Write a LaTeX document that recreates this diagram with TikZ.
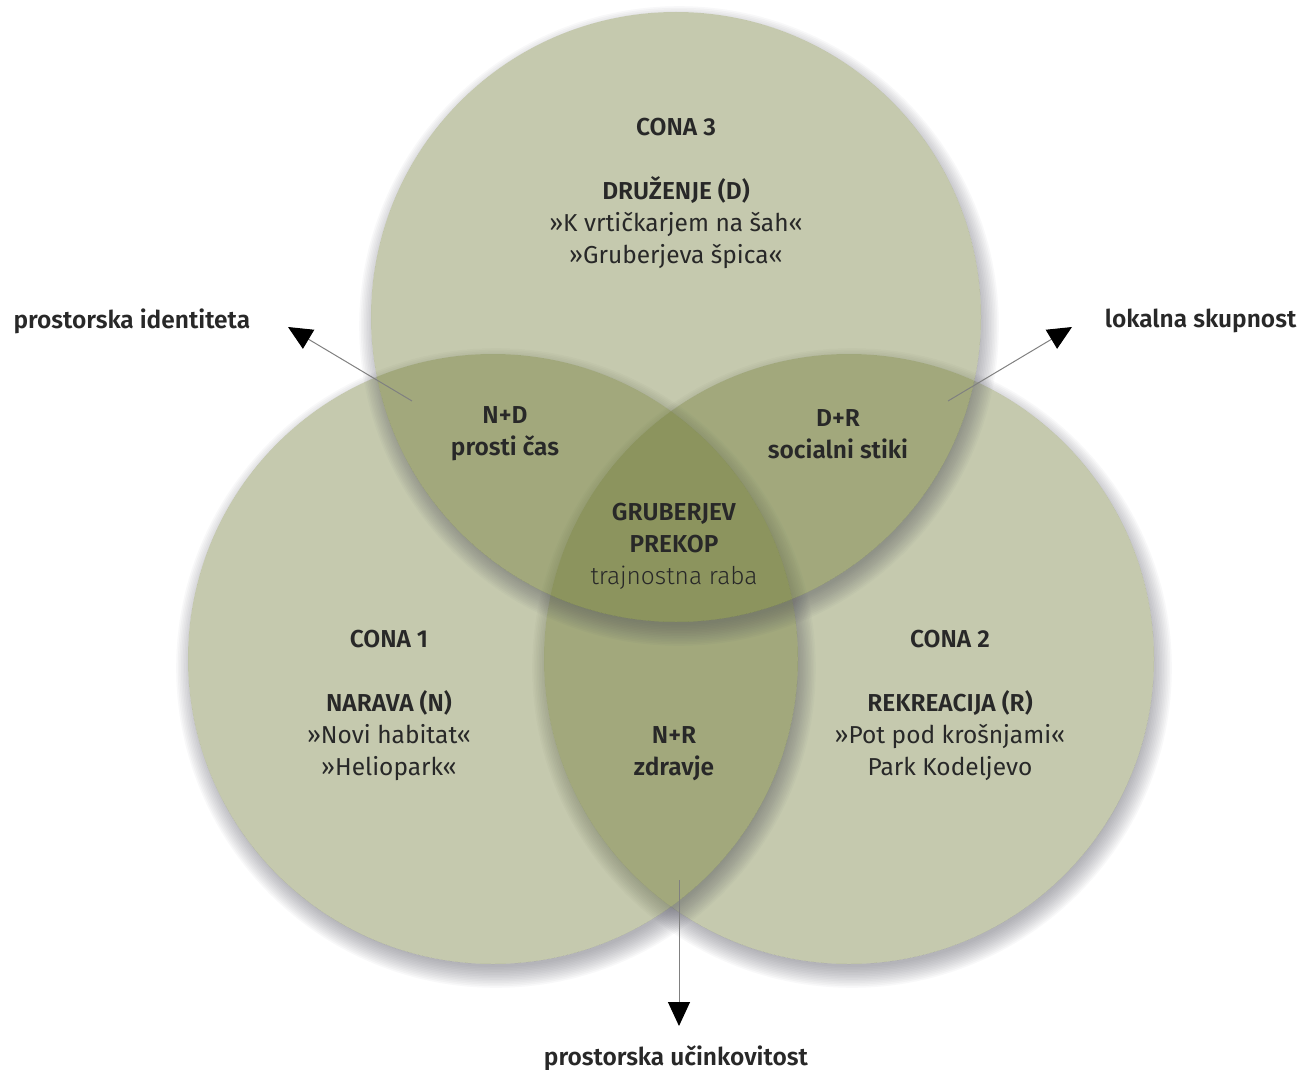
\documentclass[tikz,border=0pt]{standalone}
\usepackage{fontspec}
\setmainfont{Fira Sans}[BoldFont={Fira Sans SemiBold}]
\newfontfamily\lightfont{Fira Sans Light}
\usetikzlibrary{arrows.meta}
\definecolor{zonegreen}{RGB}{106,117,47}
\definecolor{shadowgray}{RGB}{80,80,92}
\definecolor{ink}{RGB}{40,40,40}
\tikzset{
  zone/.style={circle, minimum size=610pt, inner sep=0pt, fill=zonegreen, fill opacity=0.39},
  txt/.style={align=center, text=ink, font=\fontsize{24.5}{32}\selectfont},
  pointer/.style={draw=gray, line width=1pt, -{Triangle[length=24pt,width=22pt,color=black]}},
}
% soft shadow outside a zone, centre #1,#2
\newcommand{\zoneshadow}[2]{%
  \begin{scope}[even odd rule]
    \clip (0,0) -- (0,1070) -- (1301,1070) -- (1301,0) -- cycle (#1,#2) circle (305);
    \foreach \i in {0,...,13} \fill[shadowgray, opacity=0.04] ({#1+3},{#2+9}) circle ({299+1.6*\i});
  \end{scope}}
\begin{document}
\begin{tikzpicture}[x=1pt,y=-1pt]
\useasboundingbox (0,0) rectangle (1301,1070);
% zones
\zoneshadow{849}{659}
\node[zone] (zone2) at (849,659) {};
\zoneshadow{493}{659}
\node[zone] (zone1) at (493,659) {};
\zoneshadow{676}{317}
\node[zone] (zone3) at (676,317) {};
% pointers
\coordinate (nd-start) at (412,401);
\coordinate (nd-tip) at (288,327);
\coordinate (dr-start) at (948,401);
\coordinate (dr-tip) at (1072,327);
\coordinate (nr-start) at (679,880);
\coordinate (nr-tip) at (679,1026);
\draw[pointer] (nd-start) -- (nd-tip);
\draw[pointer] (dr-start) -- (dr-tip);
\draw[pointer] (nr-start) -- (nr-tip);
% texts
\node[txt] (cona3) at (676,193) {\textbf{CONA 3}\\[32pt]\textbf{DRUŽENJE (D)}\\»K vrtičkarjem na šah«\\»Gruberjeva špica«};
\node[txt] (cona1) at (389,705) {\textbf{CONA 1}\\[32pt]\textbf{NARAVA (N)}\\»Novi habitat«\\»Heliopark«};
\node[txt] (cona2) at (950,705) {\textbf{CONA 2}\\[32pt]\textbf{REKREACIJA (R)}\\»Pot pod krošnjami«\\Park Kodeljevo};
\node[txt] (nd) at (505,434) {\textbf{N+D}\\\textbf{prosti čas}};
\node[txt] (dr) at (838,434) {\textbf{D+R}\\\textbf{socialni stiki}};
\node[txt] (nr) at (674,754) {\textbf{N+R}\\\textbf{zdravje}};
\node[txt] (prekop) at (674,546) {\textbf{GRUBERJEV}\\\textbf{PREKOP}\\{\lightfont trajnostna raba}};
\node[txt, anchor=west] (identiteta) at (10,321) {\textbf{prostorska identiteta}};
\node[txt, anchor=east] (skupnost) at (1300,321) {\textbf{lokalna skupnost}};
\node[txt] (ucinkovitost) at (676,1058) {\textbf{prostorska učinkovitost}};
\end{tikzpicture}
\end{document}
